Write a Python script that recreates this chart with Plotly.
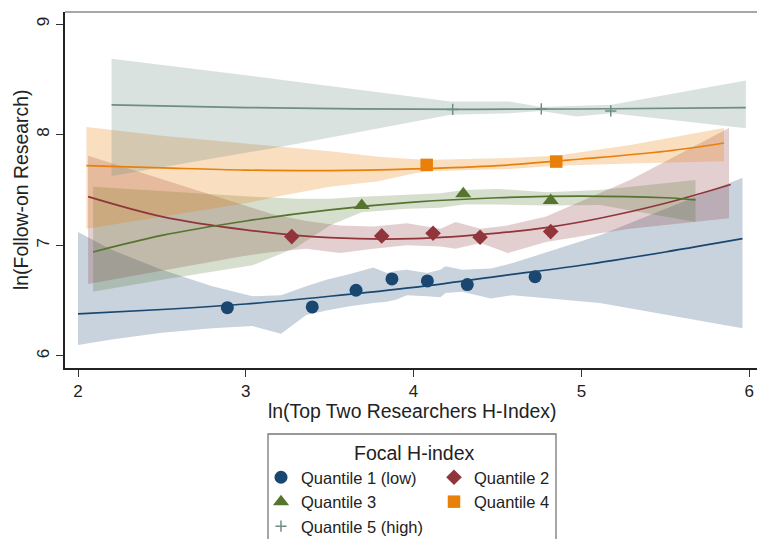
import plotly.graph_objects as go

# ---------------- data ----------------
# binned scatter points
q1_x = [2.890, 3.396, 3.657, 3.871, 4.082, 4.320, 4.724]
q1_y = [6.437, 6.443, 6.594, 6.696, 6.678, 6.645, 6.717]
q2_x = [3.274, 3.810, 4.116, 4.396, 4.817]
q2_y = [7.079, 7.085, 7.109, 7.073, 7.124]
q3_x = [3.691, 4.296, 4.817]
q3_y = [7.359, 7.465, 7.404]
q4_x = [4.078, 4.850]
q4_y = [7.727, 7.757]
q5_x = [4.233, 4.761, 5.175]
q5_y = [8.228, 8.233, 8.215]

# quadratic fit lines
fit1_x = [2.00, 2.50, 3.00, 3.50, 4.00, 4.50, 5.00, 5.50, 5.96]
fit1_y = [6.38, 6.42, 6.47, 6.54, 6.62, 6.72, 6.82, 6.94, 7.06]
fit2_x = [2.06, 2.50, 3.00, 3.50, 4.00, 4.50, 4.81, 5.11, 5.50, 5.89]
fit2_y = [7.44, 7.26, 7.14, 7.07, 7.06, 7.11, 7.165, 7.245, 7.38, 7.55]
fit3_x = [2.09, 2.50, 3.00, 3.50, 4.00, 4.50, 5.00, 5.50, 5.68]
fit3_y = [6.94, 7.09, 7.22, 7.32, 7.39, 7.43, 7.445, 7.43, 7.41]
fit4_x = [2.05, 2.50, 3.00, 3.50, 4.00, 4.50, 5.00, 5.50, 5.85]
fit4_y = [7.72, 7.70, 7.68, 7.675, 7.69, 7.72, 7.78, 7.85, 7.925]
fit5_x = [2.20, 3.00, 4.00, 5.00, 5.98]
fit5_y = [8.27, 8.245, 8.23, 8.232, 8.245]

# confidence bands
ci1_x = [2.00, 2.20, 2.50, 2.80, 3.04, 3.21, 3.36, 3.48, 3.62, 3.76, 3.84, 3.90, 3.96, 4.08, 4.16, 4.19, 4.29, 4.46, 4.59, 5.11, 5.96]
ci1_hi = [7.12, 6.96, 6.78, 6.63, 6.54, 6.55, 6.63, 6.69, 6.74, 6.80, 6.75, 6.77, 6.78, 6.75, 6.78, 6.81, 6.78, 6.79, 6.84, 7.09, 7.61]
ci1_lo = [6.10, 6.15, 6.21, 6.25, 6.27, 6.20, 6.37, 6.41, 6.45, 6.48, 6.49, 6.51, 6.55, 6.54, 6.53, 6.57, 6.58, 6.52, 6.55, 6.48, 6.25]

ci2_x = [2.06, 2.50, 2.97, 3.16, 3.36, 3.56, 3.76, 3.96, 4.16, 4.25, 4.40, 4.56, 4.79, 5.11, 5.29, 5.88]
ci2_hi = [7.81, 7.60, 7.37, 7.28, 7.22, 7.18, 7.17, 7.20, 7.15, 7.21, 7.15, 7.18, 7.26, 7.47, 7.59, 8.06]
ci2_lo = [6.65, 6.77, 6.90, 6.94, 6.97, 6.93, 6.97, 7.00, 6.99, 6.97, 7.02, 6.93, 7.03, 7.11, 7.15, 7.245]

ci3_x = [2.09, 2.50, 3.04, 3.30, 3.50, 3.69, 3.96, 4.16, 4.30, 4.50, 4.79, 5.11, 5.68]
ci3_hi = [7.53, 7.49, 7.44, 7.42, 7.42, 7.44, 7.46, 7.47, 7.50, 7.51, 7.48, 7.50, 7.59]
ci3_lo = [6.58, 6.69, 6.82, 6.98, 7.18, 7.30, 7.33, 7.34, 7.37, 7.37, 7.36, 7.365, 7.21]

ci4_x = [2.05, 2.50, 3.00, 3.22, 3.50, 3.79, 4.00, 4.08, 4.30, 4.57, 4.85, 5.30, 5.85]
ci4_hi = [8.07, 7.99, 7.92, 7.89, 7.85, 7.80, 7.78, 7.77, 7.78, 7.79, 7.81, 7.91, 8.06]
ci4_lo = [7.15, 7.26, 7.38, 7.45, 7.53, 7.58, 7.65, 7.67, 7.68, 7.69, 7.72, 7.74, 7.76]

ci5_x = [2.20, 3.22, 4.22, 4.57, 4.76, 4.97, 5.18, 5.98]
ci5_hi = [8.685, 8.495, 8.30, 8.30, 8.25, 8.26, 8.27, 8.49]
ci5_lo = [7.627, 7.893, 8.179, 8.194, 8.215, 8.164, 8.194, 8.059]

x_ticks = [2, 3, 4, 5, 6]
y_ticks = [6, 7, 8, 9]
names = ["Quantile 1 (low)", "Quantile 2", "Quantile 3", "Quantile 4", "Quantile 5 (high)"]

# ---------------- styling ----------------
colors = ["#1a476f", "#90353b", "#55752f", "#e8800a", "#6e8e84"]
fills = ["rgba(26,71,111,0.24)", "rgba(144,53,59,0.24)", "rgba(85,117,47,0.24)",
         "rgba(232,128,10,0.26)", "rgba(110,142,132,0.26)"]
FONT = "Liberation Sans, Arial, Helvetica, sans-serif"

pts = [(q1_x, q1_y), (q2_x, q2_y), (q3_x, q3_y), (q4_x, q4_y), (q5_x, q5_y)]
fits = [(fit1_x, fit1_y), (fit2_x, fit2_y), (fit3_x, fit3_y), (fit4_x, fit4_y), (fit5_x, fit5_y)]
cis = [(ci1_x, ci1_hi, ci1_lo), (ci2_x, ci2_hi, ci2_lo), (ci3_x, ci3_hi, ci3_lo),
       (ci4_x, ci4_hi, ci4_lo), (ci5_x, ci5_hi, ci5_lo)]
markers = [dict(symbol="circle", size=13),
           dict(symbol="diamond", size=12),
           dict(symbol="triangle-up", size=14),
           dict(symbol="square", size=12.5),
           dict(symbol="cross-thin", size=8)]
legend_of = ["legend", "legend2", "legend", "legend2", "legend"]

fig = go.Figure()

for i, (cx, hi, lo) in enumerate(cis):
    fig.add_trace(go.Scatter(x=list(cx) + list(cx)[::-1], y=list(hi) + list(lo)[::-1],
                             fill="toself", fillcolor=fills[i], line=dict(width=0),
                             mode="lines", hoverinfo="skip", showlegend=False))

for i, (fx, fy) in enumerate(fits):
    fig.add_trace(go.Scatter(x=fx, y=fy, mode="lines",
                             line=dict(color=colors[i], width=1.7, shape="spline"),
                             showlegend=False, hoverinfo="skip"))

for i, (px, py) in enumerate(pts):
    m = dict(markers[i], color=colors[i])
    if markers[i]["symbol"] == "cross-thin":
        m["line"] = dict(color=colors[i], width=1.5)
    else:
        m["line"] = dict(width=0)
    fig.add_trace(go.Scatter(x=px, y=py, mode="markers", marker=m, name=names[i],
                             legend=legend_of[i], showlegend=True))

# page geometry (body margin is removed by the post script below)
W, H = 757, 539
PL, PT, PR, PB = 65, 12, 757, 368          # plot area in window pixels
L, T, R, B = PL, PT, W - PR, H - PB
pw, ph = PR - PL, PB - PT

def pxx(p):
    return (p - PL) / pw

def pyy(p):
    return (PB - p) / ph

leg_common = dict(bgcolor="rgba(0,0,0,0)", borderwidth=0, font=dict(family=FONT, size=16.5, color="#222"),
                  xanchor="left", yanchor="top", orientation="v", tracegroupgap=0, itemclick=False)

fig.update_layout(
    width=W, height=H,
    margin=dict(l=L, r=R, t=T, b=B, autoexpand=False),
    paper_bgcolor="white", plot_bgcolor="white",
    font=dict(family=FONT, color="#222"),
    xaxis=dict(range=[1.9225, 6.0465], tickvals=x_ticks, ticks="outside", ticklen=7, tickwidth=1.3,
               tickcolor="#333", showline=True, linecolor="#222", linewidth=1.5, showgrid=False,
               zeroline=False, tickfont=dict(size=17, family=FONT, color="#222")),
    yaxis=dict(range=[5.8915, 9.1085], tickvals=y_ticks, ticks="outside", ticklen=7, tickwidth=1.3,
               tickcolor="#333", showline=True, linecolor="#222", linewidth=1.5, showgrid=False,
               zeroline=False, tickangle=-90, ticklabelstandoff=0,
               tickfont=dict(size=17, family=FONT, color="#222")),
    legend=dict(leg_common, x=pxx(261), y=pyy(460)),
    legend2=dict(leg_common, x=pxx(434), y=pyy(460)),
    showlegend=True,
)

fig.add_shape(type="line", xref="paper", yref="paper", x0=0, x1=1, y0=1, y1=1,
              line=dict(color="#8a8a8a", width=1.5))
fig.add_shape(type="rect", xref="paper", yref="paper", x0=pxx(268), x1=pxx(556), y0=pyy(434), y1=pyy(560),
              line=dict(color="#777", width=1.3), fillcolor="rgba(0,0,0,0)")

fig.add_annotation(text="ln(Top Two Researchers H-Index)", xref="paper", yref="paper",
                   x=pxx(412), y=pyy(411), showarrow=False, xanchor="center", yanchor="middle",
                   font=dict(size=19.4, family=FONT, color="#222"))
fig.add_annotation(text="ln(Follow-on Research)", xref="paper", yref="paper",
                   x=pxx(21), y=pyy(190), showarrow=False, xanchor="center", yanchor="middle",
                   textangle=-90, font=dict(size=19.4, family=FONT, color="#222"))
fig.add_annotation(text="Focal H-index", xref="paper", yref="paper",
                   x=pxx(414), y=pyy(453), showarrow=False, xanchor="center", yanchor="middle",
                   font=dict(size=19.5, family=FONT, color="#222"))

fig.write_html("out.html", config={"displayModeBar": False},
               post_script="document.body.style.margin='0px';document.body.style.overflow='hidden';")
